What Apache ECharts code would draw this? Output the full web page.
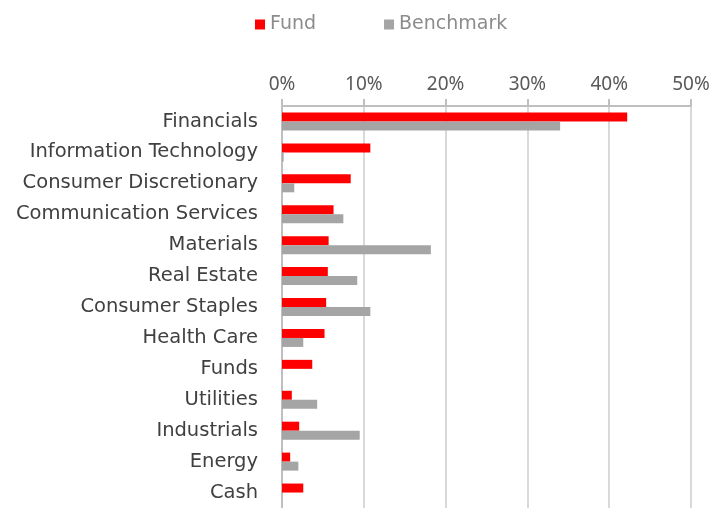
<!DOCTYPE html>
<html>
<head>
<meta charset="utf-8">
<script src="https://cdn.jsdelivr.net/npm/echarts@6/dist/echarts.min.js"></script>
<style>
  html, body { margin: 0; padding: 0; background: #fff; }
  #chart { width: 727px; height: 508px; }
</style>
</head>
<body>
<div id="chart"></div>
<script>
const categories = [
  'Financials', 'Information Technology', 'Consumer Discretionary',
  'Communication Services', 'Materials', 'Real Estate', 'Consumer Staples',
  'Health Care', 'Funds', 'Utilities', 'Industrials', 'Energy', 'Cash'
]
const fund = [42.2, 10.8, 8.4, 6.3, 5.7, 5.6, 5.4, 5.2, 3.7, 1.2, 2.1, 1.0, 2.6]
const benchmark = [34.0, 0.2, 1.5, 7.5, 18.2, 9.2, 10.8, 2.6, 0, 4.3, 9.5, 2.0, 0]
const xTicks = [0, 10, 20, 30, 40, 50]

const chart = echarts.init(document.getElementById('chart'))

const option = {
  animation: false,
  legend: {
    top: 10,
    left: 250,
    itemWidth: 10,
    itemHeight: 10,
    itemGap: 68,
    icon: 'rect',
    textStyle: { color: '#8c8c8c', fontSize: 19, fontFamily: 'DejaVu Sans' }
  },
  grid: {
    left: 282,
    right: 36,
    top: 106,
    bottom: -5
  },
  xAxis: {
    type: 'value',
    position: 'top',
    min: xTicks[0],
    max: xTicks[xTicks.length - 1],
    interval: 10,
    axisLine: { show: true, lineStyle: { color: '#bfbfbf', width: 2 } },
    axisTick: { show: true, length: 7, lineStyle: { color: '#bfbfbf', width: 2 } },
    axisLabel: {
      formatter: '{value}%',
      color: '#595959',
      fontSize: 19,
      fontFamily: 'Noto Sans',
      margin: 12
    },
    splitLine: { lineStyle: { color: '#d9d9d9', width: 2 } }
  },
  yAxis: {
    type: 'category',
    inverse: true,
    data: categories,
    axisLine: { show: true, lineStyle: { color: '#bfbfbf', width: 2 } },
    axisTick: { show: false },
    axisLabel: {
      color: '#404040',
      fontSize: 19.5,
      fontFamily: 'DejaVu Sans',
      margin: 24
    }
  },
  series: [
    {
      name: 'Fund',
      type: 'bar',
      data: fund,
      barWidth: 9,
      barGap: '0%',
      itemStyle: { color: '#ff0000' }
    },
    {
      name: 'Benchmark',
      type: 'bar',
      data: benchmark,
      barWidth: 9,
      itemStyle: { color: '#a5a5a5' }
    }
  ]
}
chart.setOption(option)
</script>
</body>
</html>
